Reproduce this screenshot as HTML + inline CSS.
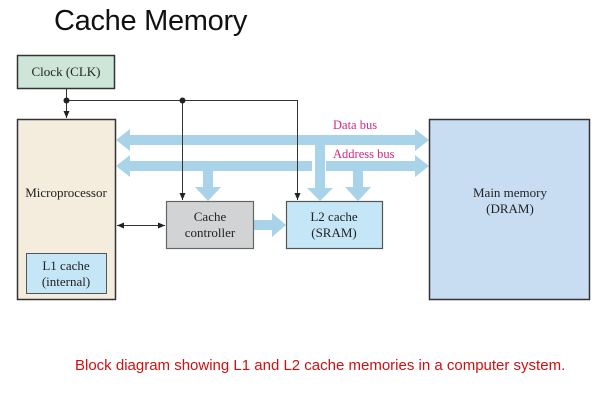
<!DOCTYPE html>
<html><head><style>
body{margin:0;background:#fff;width:605px;height:407px;overflow:hidden;position:relative;font-family:"Liberation Serif",serif}
.t{position:absolute;left:54px;top:5px;font:29px "Liberation Sans",sans-serif;color:#111;letter-spacing:-0.3px}
.c{position:absolute;left:75px;top:357px;font:15px "Liberation Sans",sans-serif;color:#d01010;white-space:nowrap}
</style></head><body>
<div class="t">Cache Memory</div>
<svg width="605" height="407" style="position:absolute;left:0;top:0" font-family="Liberation Serif, serif" font-size="13">
<defs><marker id="a" markerWidth="8" markerHeight="8" refX="7" refY="3" orient="auto"><path d="M0,0L7,3L0,6z" fill="#222"/></marker>
<marker id="b" markerWidth="8" markerHeight="8" refX="0" refY="3" orient="auto"><path d="M7,0L0,3L7,6z" fill="#222"/></marker></defs>
<rect x="17.5" y="55.5" width="97" height="33" fill="#cde6d7" stroke="#333" stroke-width="1.5"/>
<text x="66" y="76" text-anchor="middle" fill="#222">Clock (CLK)</text>
<rect x="17.5" y="119.5" width="98" height="180" fill="#f4ecdc" stroke="#333" stroke-width="1.5"/>
<text x="66" y="197" text-anchor="middle" fill="#222">Microprocessor</text>
<rect x="26.5" y="253.5" width="80" height="40" fill="#c5e6f6" stroke="#555"/>
<text x="66" y="270" text-anchor="middle" fill="#222">L1 cache</text>
<text x="66" y="286" text-anchor="middle" fill="#222">(internal)</text>
<g fill="#a9d3e8">
<rect x="128" y="135" width="290" height="10"/><path d="M116,140L130,129V151z M429,140L415,129V151z"/>
<rect x="128" y="161" width="184" height="10"/><rect x="326" y="161" width="92" height="10"/><path d="M116,166L130,155V177z M429,166L415,155V177z"/>
<rect x="315" y="145" width="10" height="45"/><path d="M307,188L333,188L320,201z"/>
<rect x="203" y="171" width="10" height="18"/><path d="M195,187L221,187L208,201z"/>
<rect x="353" y="171" width="10" height="18"/><path d="M345,187L371,187L358,201z"/>
<rect x="253" y="220" width="21" height="10"/><path d="M272,213L286,225L272,237z"/>
</g>
<rect x="166.5" y="201.5" width="87" height="47" fill="#d2d3d5" stroke="#666" stroke-width="1.2"/>
<text x="210" y="221" text-anchor="middle" fill="#222">Cache</text>
<text x="210" y="237" text-anchor="middle" fill="#222">controller</text>
<rect x="286.5" y="201.5" width="96" height="47" fill="#c5e6f6" stroke="#555" stroke-width="1.2"/>
<text x="334" y="221" text-anchor="middle" fill="#222">L2 cache</text>
<text x="334" y="237" text-anchor="middle" fill="#222">(SRAM)</text>
<rect x="429.5" y="119.5" width="160" height="180" fill="#c8ddf2" stroke="#333" stroke-width="1.5"/>
<text x="510" y="197" text-anchor="middle" fill="#222">Main memory</text>
<text x="510" y="213" text-anchor="middle" fill="#222">(DRAM)</text>
<g stroke="#333" stroke-width="1" fill="none">
<path d="M66.5,88V118" marker-end="url(#a)"/>
<path d="M66.5,100.5H297.5V200" marker-end="url(#a)"/>
<path d="M182.5,100.5V200" marker-end="url(#a)"/>
<path d="M117,225.5H165" marker-start="url(#b)" marker-end="url(#a)"/>
</g>
<circle cx="66.5" cy="100.5" r="3" fill="#222"/><circle cx="182.5" cy="100.5" r="3" fill="#222"/>
<text x="333" y="129" fill="#d6287e" font-size="12.5">Data bus</text>
<text x="333" y="158" fill="#d6287e" font-size="12.5">Address bus</text>
</svg>
<div class="c">Block diagram showing L1 and L2 cache memories in a computer system.</div>
</body></html>
